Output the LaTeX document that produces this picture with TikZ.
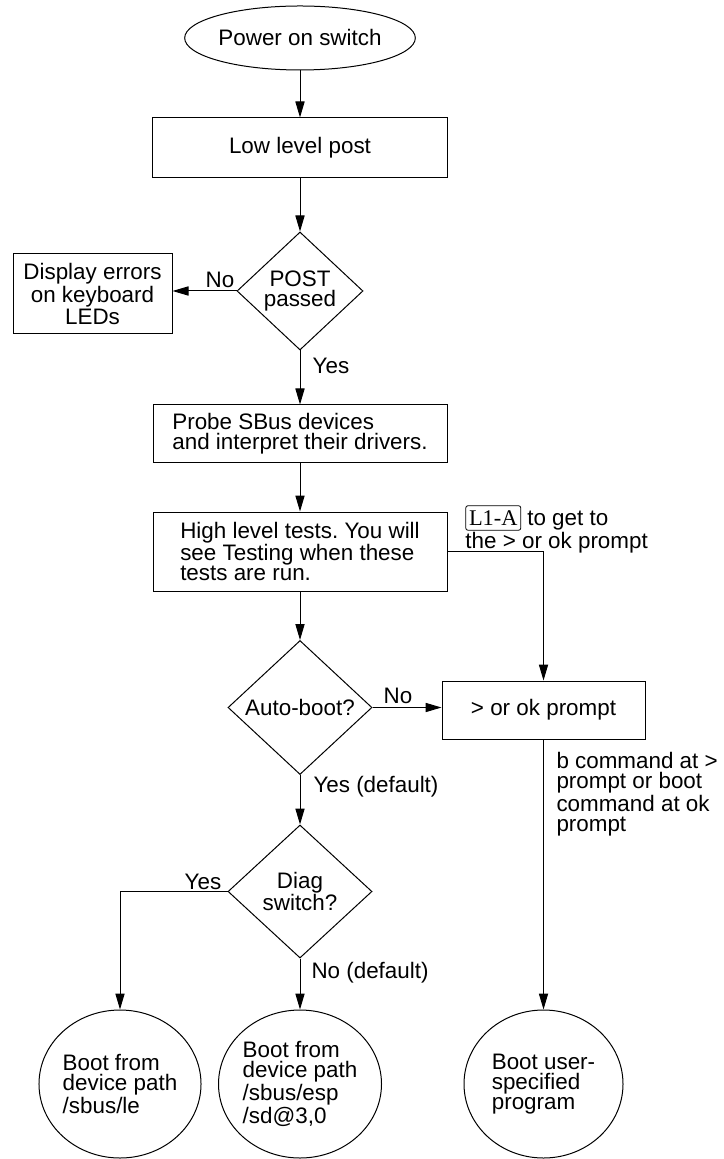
\documentclass[tikz,border=0pt]{standalone}
\usepackage{fontspec}
\setmainfont{Liberation Sans}
\newfontfamily\keyfont{Liberation Serif}
\usetikzlibrary{shapes.geometric,arrows.meta}
\newcommand{\Keycap}[1]{\tikz[baseline=(kc.base)] \node[draw,rounded corners=1pt,inner xsep=1.6pt,inner ysep=2.4pt] (kc) {\keyfont #1};}
\frenchspacing

\begin{document}
\begin{tikzpicture}[x=0.5pt,y=-0.5pt,line width=0.5pt,>={Triangle[length=8pt,width=4.6pt]},
every node/.style={font=\fontsize{11.2}{10}\selectfont},
blk/.style={draw,rectangle,inner sep=0pt,align=center},
dec/.style={draw,diamond,inner sep=0pt,align=center},
term/.style={draw,ellipse,inner sep=0pt,align=left},
lbl/.style={inner sep=0pt}]
\useasboundingbox (0,0) rectangle (723,1159);
\node[term,minimum width=110pt,minimum height=32pt] (start) at (300,38) {Power on switch};
\node[blk,minimum width=147.5pt,minimum height=30pt] (lowpost) at (300,148) {Low level post};
\node[dec,minimum width=63pt,minimum height=59pt] (post) at (300,291) {POST\\passed};
\node[blk,minimum width=79.5pt,minimum height=40pt] (errors) at (92.5,294) {Display errors\\on keyboard\\LEDs};
\node[blk,align=left,minimum width=147pt,minimum height=29pt] (probe) at (300,434) {Probe SBus devices\\and interpret their drivers.};
\node[blk,align=left,minimum width=147pt,minimum height=39.5pt] (high) at (300,551.5) {High level tests. You will\\see Testing when these\\tests are run.};
%-------------
\node[dec,minimum width=72pt,minimum height=67pt] (auto) at (300,707.5) {Auto-boot?};
\node[blk,minimum width=101.5pt,minimum height=29pt] (prompt) at (543.5,710) {> or ok prompt};
\node[dec,minimum width=72pt,minimum height=66.5pt] (diag) at (300,891.5) {Diag\\switch?};
%-------------
\node[term,minimum width=81pt,minimum height=74pt] (le) at (120,1084) {Boot from\\device path\\/sbus/le};
\node[term,minimum width=81.5pt,minimum height=74pt] (esp) at (300,1084) {Boot from\\device path\\/sbus/esp\\/sd@3,0};
\node[term,minimum width=79.5pt,minimum height=74pt] (user) at (543.5,1084) {Boot user-\\specified\\program};
%-------------
\node[lbl,anchor=north west,align=left] (l1a) at (465,505) {\Keycap{L1-A} to get to\\the > or ok prompt};
\node[lbl,anchor=north west,align=left] (bcmd) at (556,752) {b command at >\\prompt or boot\\command at ok\\prompt};
\node[lbl] (nopost) at (220,280) {No};
\node[lbl] (yespost) at (331,366) {Yes};
\node[lbl] (noauto) at (398,696) {No};
\node[lbl,anchor=west] (yesauto) at (313,787) {Yes (default)};
\node[lbl] (yesdiag) at (203,882) {Yes};
\node[lbl,anchor=west] (nodiag) at (311,973) {No (default)};
%-------------
\foreach \from/\to in {start/lowpost,lowpost/post,post/probe,probe/high,
high/auto,auto/diag,diag/esp,prompt/user}
\draw[->] (\from.south) -- (\to.north);
\draw[->] (post.west) -- (post.west -| errors.east);
\draw[->] (auto.east) -- (auto.east -| prompt.west);
\draw[->] (high.east) -| (prompt.north);
\draw[->] (diag.west) -| (le.north);
\end{tikzpicture}
\end{document}
